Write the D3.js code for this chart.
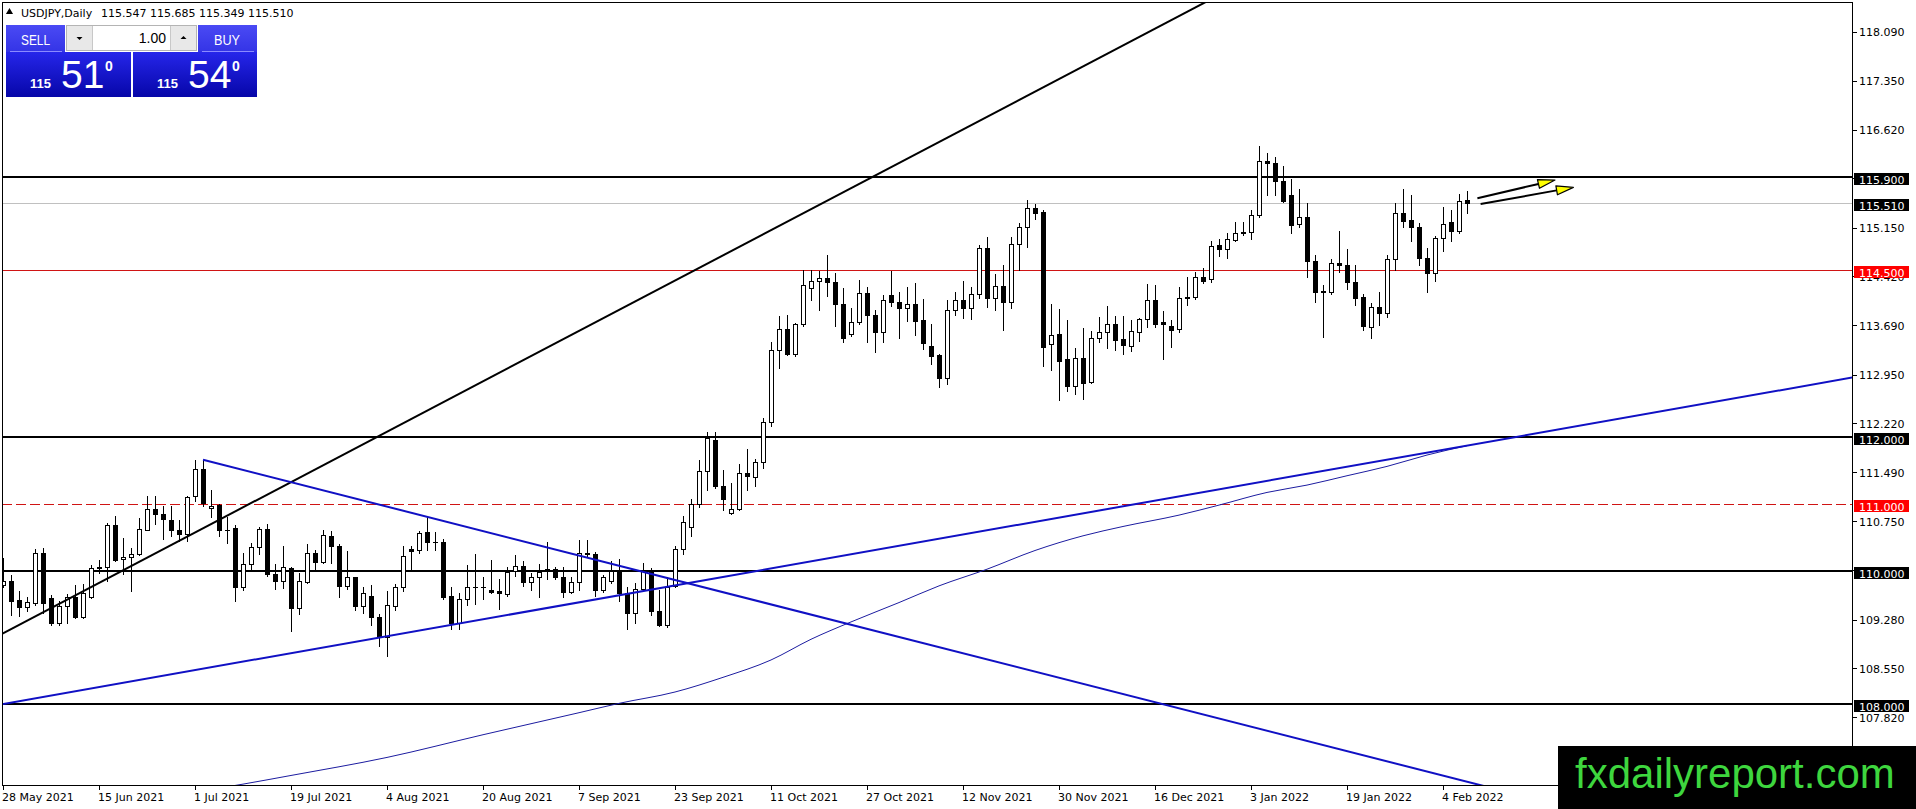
<!DOCTYPE html>
<html lang="en">
<head>
<meta charset="UTF-8">
<title>USDJPY Daily</title>
<style>
  html, body { margin: 0; padding: 0; background: #fff; overflow: hidden; }
  svg { display: block; }
</style>
</head>
<body>
<div class="chart"></div>
<script src="https://d3js.org/d3.v7.min.js"></script>
<script>
// daily bars, 28 May 2021 .. 9 Feb 2022 (bar index 0..183)
var opens = [109.79,109.85,109.56,109.45,109.52,110.26,109.59,109.22,109.47,109.61,
  109.30,109.61,110.06,110.05,110.68,110.17,110.20,110.25,110.61,110.92,
  110.84,110.76,110.61,110.54,111.11,111.52,110.94,110.98,110.61,110.63,
  109.75,110.10,110.35,110.62,109.95,109.84,110.04,109.44,109.83,110.27,
  110.13,110.52,110.37,109.77,109.90,109.47,109.62,109.31,109.01,109.47,
  109.76,110.32,110.31,110.57,110.42,110.42,109.62,109.22,109.58,109.76,
  109.76,109.71,109.69,109.65,110.00,110.07,109.83,109.90,110.02,110.02,
  109.91,109.68,109.83,110.27,110.25,109.71,109.85,109.99,109.67,109.36,
  109.72,109.99,109.40,109.19,109.77,110.32,110.65,110.99,111.49,111.96,
  111.26,110.86,110.92,111.46,111.40,111.63,112.22,113.31,113.62,113.24,
  113.69,114.23,114.33,114.38,114.32,114.00,113.54,113.72,114.16,113.83,
  113.58,114.13,114.03,113.94,114.00,113.75,113.36,113.23,112.88,113.91,
  114.06,113.93,114.14,114.83,114.08,114.26,114.02,114.89,115.14,115.43,
  115.37,113.40,113.54,113.17,112.77,113.18,112.83,113.49,113.57,113.70,
  113.47,113.37,113.57,113.77,114.05,113.72,113.66,113.62,114.10,114.10,
  114.40,114.37,114.87,114.82,114.95,115.07,115.07,115.32,116.14,116.10,
  115.84,115.63,115.19,115.30,114.64,114.19,114.17,114.61,114.58,114.32,
  114.10,113.65,113.95,113.86,114.67,115.36,115.25,115.15,114.68,114.45,
  114.98,115.22,115.08,115.547];
var highs = [110.19,109.94,109.70,109.61,110.32,110.34,109.64,109.55,109.65,109.79,
  109.80,110.09,110.16,110.71,110.82,110.48,110.34,110.79,111.11,111.11,
  110.97,110.97,110.76,111.12,111.66,111.66,111.21,110.99,110.80,110.68,
  110.26,110.41,110.65,110.70,110.10,110.36,110.05,109.96,110.40,110.31,
  110.61,110.59,110.40,110.30,109.90,109.76,109.78,109.35,109.69,109.80,
  110.36,110.37,110.59,110.81,110.57,110.47,109.75,109.66,110.08,110.25,
  109.90,110.16,109.88,110.05,110.23,110.14,109.96,110.10,110.42,110.05,
  110.06,109.91,110.45,110.45,110.28,109.93,110.15,110.17,109.75,109.81,
  110.11,110.04,109.71,109.91,110.36,110.82,111.07,111.66,112.08,112.08,
  111.51,111.31,111.59,111.82,111.67,112.28,113.43,113.81,113.83,113.71,
  114.50,114.50,114.48,114.73,114.46,114.23,113.94,114.35,114.25,113.91,
  114.13,114.48,114.17,114.25,114.30,114.07,113.69,113.24,114.05,114.18,
  114.33,114.24,114.87,114.99,114.44,114.58,114.99,115.20,115.55,115.49,
  115.40,113.99,113.92,113.75,113.34,113.63,113.59,113.80,113.97,113.81,
  113.81,113.75,113.78,114.29,114.28,113.89,113.75,114.24,114.39,114.47,
  114.53,114.93,114.97,115.06,115.22,115.22,115.40,116.36,116.25,116.19,
  116.06,115.87,115.71,115.50,114.72,114.28,114.67,115.08,114.81,114.57,
  114.15,114.01,114.17,114.72,115.51,115.71,115.62,115.20,114.83,115.01,
  115.45,115.40,115.64,115.685];
var lows = [109.75,109.34,109.32,109.39,109.49,109.36,109.18,109.18,109.21,109.29,
  109.29,109.59,109.96,109.84,110.14,109.95,109.70,110.24,110.60,110.69,
  110.47,110.52,110.44,110.44,111.04,110.97,110.80,110.52,110.41,109.54,
  109.71,110.01,110.25,109.92,109.72,109.74,109.09,109.35,109.81,110.02,
  110.11,110.12,109.60,109.72,109.41,109.37,109.18,108.87,108.72,109.41,
  109.69,110.02,110.27,110.31,110.31,109.57,109.12,109.12,109.48,109.50,
  109.58,109.66,109.42,109.62,109.92,109.77,109.71,109.60,109.88,109.88,
  109.60,109.66,109.71,110.22,109.62,109.68,109.82,109.54,109.12,109.22,
  109.70,109.34,109.17,109.15,109.75,110.25,110.52,110.95,111.21,111.24,
  110.91,110.84,110.90,111.21,111.26,111.53,112.16,113.03,113.23,113.22,
  113.66,114.05,113.91,114.11,113.67,113.43,113.52,113.70,113.42,113.28,
  113.42,113.97,113.48,113.74,113.53,113.32,113.09,112.75,112.79,113.83,
  113.78,113.77,114.09,113.95,113.91,113.61,113.94,114.50,114.85,115.27,
  113.07,113.00,112.55,112.69,112.65,112.57,112.81,113.42,113.33,113.30,
  113.25,113.29,113.44,113.65,113.65,113.17,113.35,113.58,113.98,114.07,
  114.31,114.32,114.71,114.68,114.93,115.02,114.97,115.30,115.63,115.63,
  115.52,115.05,115.15,114.40,114.02,113.50,114.15,114.47,114.22,113.98,
  113.61,113.48,113.68,113.80,114.50,115.15,114.93,114.57,114.17,114.33,
  114.78,114.93,115.05,115.349];
var closes = [109.84,109.55,109.45,109.53,110.26,109.51,109.22,109.47,109.60,109.30,
  109.66,110.04,110.04,110.68,110.16,110.21,110.25,110.62,110.92,110.84,
  110.77,110.61,110.54,111.10,111.52,111.01,110.97,110.60,110.60,109.75,
  110.10,110.35,110.62,109.95,109.84,110.06,109.44,109.84,110.27,110.13,
  110.53,110.37,109.77,109.90,109.47,109.67,109.30,109.01,109.48,109.76,
  110.22,110.30,110.56,110.42,110.42,109.60,109.22,109.58,109.76,109.75,
  109.75,109.68,109.66,109.98,110.07,109.83,109.90,109.98,110.03,109.91,
  109.68,109.83,110.27,110.25,109.71,109.90,109.99,109.67,109.36,109.72,
  109.99,109.39,109.19,109.75,110.32,110.72,110.99,111.49,111.98,111.26,
  111.07,110.92,111.46,111.41,111.63,112.23,113.31,113.62,113.24,113.69,
  114.27,114.33,114.38,114.32,114.00,113.49,113.72,114.16,113.83,113.58,
  114.05,114.02,113.94,114.00,113.74,113.41,113.22,112.88,113.91,114.06,
  113.93,114.14,114.83,114.09,114.26,114.03,114.89,115.14,115.43,115.36,
  113.35,113.53,113.14,112.77,113.19,112.81,113.49,113.57,113.70,113.46,
  113.38,113.59,113.77,114.05,113.70,113.70,113.61,114.09,114.08,114.40,
  114.33,114.86,114.82,114.97,115.06,115.05,115.33,116.14,116.10,115.83,
  115.54,115.18,115.30,114.63,114.17,114.17,114.61,114.58,114.32,114.09,
  113.67,113.95,113.86,114.67,115.36,115.23,115.15,114.68,114.45,114.98,
  115.19,115.08,115.54,115.51];

// moving average, points (bar index, price)
var maBars   = [26, 30, 36, 48, 60, 72, 77, 84, 90, 96, 101, 106, 112, 117, 123, 129, 135, 140, 147, 152, 158, 163, 168, 173, 178, 183];
var maValues = [106.72, 106.80, 106.93, 107.20, 107.54, 107.87, 108.01, 108.18, 108.40, 108.66, 108.97, 109.23, 109.52, 109.77, 110.02, 110.30, 110.52, 110.66, 110.83, 110.98, 111.17, 111.28, 111.42, 111.56, 111.73, 111.87];

// horizontal levels
var blackLevels = [115.9, 112.0, 110.0, 108.0];
var redLevels = [114.5];
var redDashedLevels = [111.0];
var bidPrice = 115.510;
var askPrice = 115.540;

// trend lines: [bar, price] pairs
var blackTrend = [[-1, 108.997], [160, 119.124]];
var blueSupport = [[-1, 107.979], [240, 113.078]];
var blueResist = [[25, 111.66], [240, 105.096]];
var arrows = [[[184.3, 115.576], [194.0, 115.85]], [[184.7, 115.49], [196.3, 115.74]]];

// axis labels
var yTicks = [118.09, 117.35, 116.62, 115.89, 115.15, 114.42, 113.69, 112.95, 112.22, 111.49, 110.75, 110.02, 109.28, 108.55, 107.82];
var dateBars = [0, 12, 24, 36, 48, 60, 72, 84, 96, 108, 120, 132, 144, 156, 168, 180];
var dateLabels = ["28 May 2021", "15 Jun 2021", "1 Jul 2021", "19 Jul 2021", "4 Aug 2021", "20 Aug 2021",
  "7 Sep 2021", "23 Sep 2021", "11 Oct 2021", "27 Oct 2021", "12 Nov 2021", "30 Nov 2021",
  "16 Dec 2021", "3 Jan 2022", "19 Jan 2022", "4 Feb 2022"];
var symbolTitle = "USDJPY,Daily";
var lotSize = "1.00";
var siteName = "fxdailyreport.com";

(function () {
  var W = 1916, H = 809;
  var pLeft = 2, pTop = 2, pRight = 1852, pBottom = 785;
  var axisFont = "DejaVu Sans, sans-serif";
  var panelFont = "Liberation Sans, Arial, sans-serif";

  var x = d3.scaleLinear().domain([0, 231.125]).range([3, pRight]);
  var y = d3.scaleLinear().domain([106.787, 118.517]).range([pBottom, pTop]);
  var fmt = d3.format(".3f");

  var svg = d3.select(".chart").append("svg").attr("width", W).attr("height", H);
  var defs = svg.append("defs");
  defs.append("clipPath").attr("id", "plot")
    .append("rect").attr("x", pLeft).attr("y", pTop).attr("width", pRight - pLeft).attr("height", pBottom - pTop);

  function grad(id, c1, c2) {
    var gr = defs.append("linearGradient").attr("id", id).attr("x1", 0).attr("y1", 0).attr("x2", 0).attr("y2", 1);
    gr.append("stop").attr("offset", "0%").attr("stop-color", c1);
    gr.append("stop").attr("offset", "100%").attr("stop-color", c2);
  }
  grad("btnTop", "#4a4af4", "#3434e6");
  grad("pricePanel", "#2626ea", "#0606a8");

  var g = svg.append("g").attr("clip-path", "url(#plot)");

  // levels
  g.selectAll(".lvl").data(blackLevels).enter().append("line")
    .attr("x1", pLeft).attr("x2", pRight)
    .attr("y1", d => Math.round(y(d))).attr("y2", d => Math.round(y(d)))
    .attr("stroke", "#000").attr("stroke-width", 2).attr("shape-rendering", "crispEdges");
  g.append("line").attr("x1", pLeft).attr("x2", pRight)
    .attr("y1", Math.round(y(bidPrice)) + 0.5).attr("y2", Math.round(y(bidPrice)) + 0.5)
    .attr("stroke", "#c0c0c0").attr("stroke-width", 1);
  g.selectAll(".red").data(redLevels).enter().append("line")
    .attr("x1", pLeft).attr("x2", pRight)
    .attr("y1", d => Math.round(y(d)) + 0.5).attr("y2", d => Math.round(y(d)) + 0.5)
    .attr("stroke", "#d01414").attr("stroke-width", 1);
  g.selectAll(".reddash").data(redDashedLevels).enter().append("line")
    .attr("x1", pLeft).attr("x2", pRight)
    .attr("y1", d => Math.round(y(d)) + 0.5).attr("y2", d => Math.round(y(d)) + 0.5)
    .attr("stroke", "#d01414").attr("stroke-width", 1).attr("stroke-dasharray", "10,4");

  // moving average
  var maPts = maBars.map((b, i) => [b, maValues[i]]);
  g.append("path").datum(maPts)
    .attr("d", d3.line().x(d => x(d[0])).y(d => y(d[1])).curve(d3.curveMonotoneX))
    .attr("fill", "none").attr("stroke", "#1c1ca0").attr("stroke-width", 1);

  // candles
  var idx = d3.range(opens.length);
  var candles = g.selectAll(".c").data(idx).enter().append("g");
  candles.append("line")
    .attr("x1", i => Math.round(x(i)) + 0.5).attr("x2", i => Math.round(x(i)) + 0.5)
    .attr("y1", i => Math.round(y(highs[i]))).attr("y2", i => Math.round(y(lows[i])) + 1)
    .attr("stroke", "#000").attr("stroke-width", 1);
  candles.each(function (i) {
    var X = Math.round(x(i));
    var t = Math.round(y(Math.max(opens[i], closes[i])));
    var b = Math.round(y(Math.min(opens[i], closes[i])));
    var s = d3.select(this);
    if (b - t < 2) {
      s.append("line").attr("x1", X - 2).attr("x2", X + 3).attr("y1", t + 0.5).attr("y2", t + 0.5).attr("stroke", "#000");
      if (b - t >= 1) s.append("line").attr("x1", X - 2).attr("x2", X + 3).attr("y1", b + 0.5).attr("y2", b + 0.5).attr("stroke", "#000");
    } else if (closes[i] >= opens[i]) {
      s.append("rect").attr("x", X - 1.5).attr("y", t + 0.5).attr("width", 4).attr("height", b - t)
        .attr("fill", "#fff").attr("stroke", "#000").attr("stroke-width", 1);
    } else {
      s.append("rect").attr("x", X - 2).attr("y", t).attr("width", 5).attr("height", b - t + 1)
        .attr("fill", "#000");
    }
  });

  // trend lines
  function seg(pts) { return d3.line().x(d => x(d[0])).y(d => y(d[1]))(pts); }
  g.append("path").attr("d", seg(blackTrend)).attr("stroke", "#000").attr("stroke-width", 2).attr("fill", "none");
  g.append("path").attr("d", seg(blueSupport)).attr("stroke", "#1010c4").attr("stroke-width", 2).attr("fill", "none");
  g.append("path").attr("d", seg(blueResist)).attr("stroke", "#1010c4").attr("stroke-width", 2).attr("fill", "none");

  // arrows
  arrows.forEach(function (a) {
    var x0 = x(a[0][0]), y0 = y(a[0][1]), x1 = x(a[1][0]), y1 = y(a[1][1]);
    var ang = Math.atan2(y1 - y0, x1 - x0), len = 17, hw = 4.5;
    var bx = x1 - len * Math.cos(ang), by = y1 - len * Math.sin(ang);
    var px = -Math.sin(ang) * hw, py = Math.cos(ang) * hw;
    g.append("line").attr("x1", x0).attr("y1", y0).attr("x2", bx).attr("y2", by).attr("stroke", "#000").attr("stroke-width", 2);
    g.append("path").attr("d", "M" + x1 + "," + y1 + "L" + (bx + px) + "," + (by + py) + "L" + (bx - px) + "," + (by - py) + "Z")
      .attr("fill", "#ffff00").attr("stroke", "#000").attr("stroke-width", 1.2).attr("stroke-linejoin", "round");
  });

  // frame
  var frame = svg.append("g").attr("stroke", "#000").attr("stroke-width", 1).attr("shape-rendering", "crispEdges");
  frame.append("line").attr("x1", pLeft + 0.5).attr("x2", pLeft + 0.5).attr("y1", pTop).attr("y2", pBottom + 1);
  frame.append("line").attr("x1", pLeft).attr("x2", pRight).attr("y1", pTop + 0.5).attr("y2", pTop + 0.5);
  frame.append("line").attr("x1", pLeft).attr("x2", pRight).attr("y1", pBottom + 0.5).attr("y2", pBottom + 0.5);
  frame.append("line").attr("x1", pRight + 0.5).attr("x2", pRight + 0.5).attr("y1", pTop).attr("y2", H);

  // right axis
  var ya = svg.append("g").style("font-family", axisFont).style("font-size", "11px");
  ya.selectAll("line").data(yTicks).enter().append("line")
    .attr("x1", pRight + 1).attr("x2", pRight + 5)
    .attr("y1", d => Math.round(y(d)) + 1.5).attr("y2", d => Math.round(y(d)) + 1.5)
    .attr("stroke", "#000").attr("shape-rendering", "crispEdges");
  ya.selectAll("text").data(yTicks).enter().append("text")
    .attr("x", pRight + 7).attr("y", d => y(d) + 5.5)
    .attr("fill", "#000").text(d => fmt(d));

  function levelTag(v, fill) {
    var yy = Math.round(y(v));
    ya.append("rect").attr("x", pRight + 2).attr("y", yy - 4).attr("width", 55).attr("height", 12).attr("fill", fill);
    ya.append("text").attr("x", pRight + 7).attr("y", yy + 6.5).attr("fill", "#fff").text(fmt(v));
  }
  blackLevels.forEach(v => levelTag(v, "#000"));
  levelTag(bidPrice, "#000");
  redLevels.forEach(v => levelTag(v, "#ff0000"));
  redDashedLevels.forEach(v => levelTag(v, "#ff0000"));

  // date axis
  var xa = svg.append("g").style("font-family", axisFont).style("font-size", "11px");
  xa.selectAll("line").data(dateBars).enter().append("line")
    .attr("x1", d => Math.round(x(d)) + 0.5).attr("x2", d => Math.round(x(d)) + 0.5)
    .attr("y1", pBottom).attr("y2", pBottom + 5).attr("stroke", "#000");
  xa.selectAll("text").data(dateBars).enter().append("text")
    .attr("x", d => x(d) - 1).attr("y", 801).attr("fill", "#000")
    .text((d, i) => dateLabels[i]);

  // title line
  var last = opens.length - 1;
  var head = svg.append("g").style("font-family", axisFont).style("font-size", "11px");
  head.append("path").attr("d", d3.symbol(d3.symbolTriangle, 22)()).attr("transform", "translate(9.5,12)").attr("fill", "#000");
  head.append("text").attr("x", 21).attr("y", 17).text(symbolTitle);
  head.append("text").attr("x", 101).attr("y", 17)
    .text([opens[last], highs[last], lows[last], closes[last]].map(fmt).join(" "));

  // one-click trading panel
  var p = svg.append("g").style("font-family", panelFont);
  p.append("rect").attr("x", 6).attr("y", 25).attr("width", 59).attr("height", 27).attr("fill", "url(#btnTop)");
  p.append("rect").attr("x", 198).attr("y", 25).attr("width", 59).attr("height", 27).attr("fill", "url(#btnTop)");
  p.append("line").attr("x1", 10).attr("x2", 62).attr("y1", 51.5).attr("y2", 51.5).attr("stroke", "#8a8aff");
  p.append("line").attr("x1", 202).attr("x2", 254).attr("y1", 51.5).attr("y2", 51.5).attr("stroke", "#8a8aff");
  p.append("text").attr("x", 35.5).attr("y", 44.5).attr("text-anchor", "middle").style("font-size", "14px").attr("fill", "#fff")
    .attr("textLength", 29).attr("lengthAdjust", "spacingAndGlyphs").text("SELL");
  p.append("text").attr("x", 227).attr("y", 44.5).attr("text-anchor", "middle").style("font-size", "14px").attr("fill", "#fff")
    .attr("textLength", 26).attr("lengthAdjust", "spacingAndGlyphs").text("BUY");
  // lot spinner
  p.append("rect").attr("x", 66.5).attr("y", 25.5).attr("width", 130).attr("height", 25).attr("fill", "#fff").attr("stroke", "#b4b4b4");
  p.append("rect").attr("x", 67).attr("y", 26).attr("width", 25).attr("height", 24).attr("fill", "#e8e8e8");
  p.append("rect").attr("x", 171).attr("y", 26).attr("width", 25).attr("height", 24).attr("fill", "#e8e8e8");
  p.append("line").attr("x1", 92.5).attr("x2", 92.5).attr("y1", 26).attr("y2", 50).attr("stroke", "#c8c8c8");
  p.append("line").attr("x1", 170.5).attr("x2", 170.5).attr("y1", 26).attr("y2", 50).attr("stroke", "#c8c8c8");
  p.append("path").attr("d", "M76.5,37L82.5,37L79.5,40Z").attr("fill", "#000");
  p.append("path").attr("d", "M180.5,39L186.5,39L183.5,36Z").attr("fill", "#000");
  p.append("text").attr("x", 166).attr("y", 43).attr("text-anchor", "end").style("font-size", "14px").attr("fill", "#000").text(lotSize);
  // price panels
  function pricePanel(x0, w, price) {
    var s = fmt(price);
    p.append("rect").attr("x", x0).attr("y", 52).attr("width", w).attr("height", 45).attr("fill", "url(#pricePanel)");
    p.append("text").attr("x", x0 + 24).attr("y", 88).style("font-size", "13px").style("font-weight", "bold").attr("fill", "#fff").text(s.slice(0, 3));
    p.append("text").attr("x", x0 + 55).attr("y", 88).style("font-size", "39px").attr("fill", "#fff").text(s.slice(4, 6));
    p.append("text").attr("x", x0 + 99).attr("y", 71).style("font-size", "14px").style("font-weight", "bold").attr("fill", "#fff").text(s.slice(6));
  }
  pricePanel(6, 125, bidPrice);
  pricePanel(133, 124, askPrice);

  // watermark
  svg.append("rect").attr("x", 1558).attr("y", 746).attr("width", W - 1558).attr("height", H - 746).attr("fill", "#000");
  svg.append("text").attr("x", 1575).attr("y", 788).style("font-family", panelFont)
    .style("font-size", "42px").attr("fill", "#3ed63e").text(siteName);
})();
</script>
</body>
</html>
